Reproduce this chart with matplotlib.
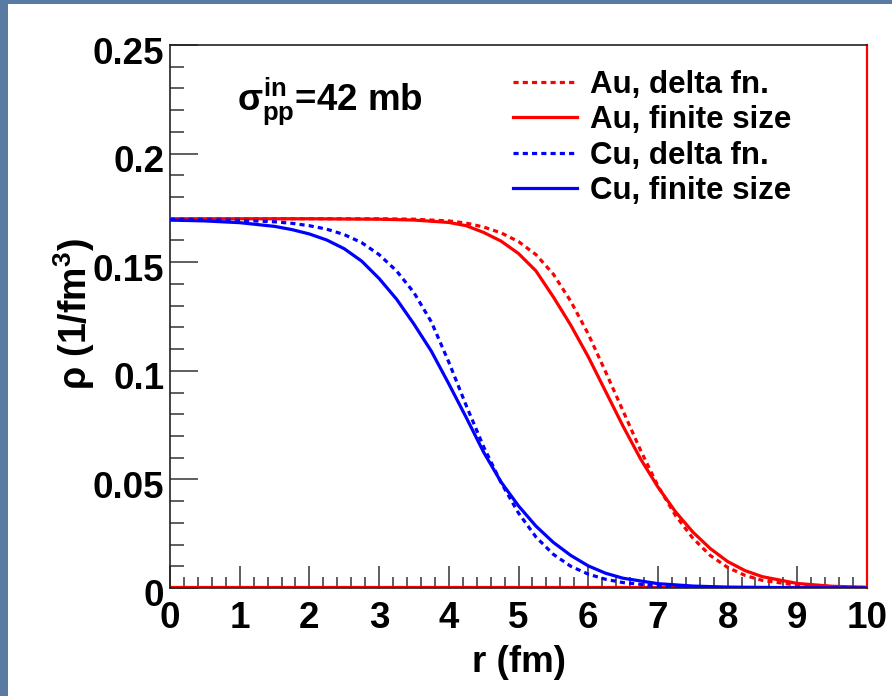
import matplotlib
matplotlib.use("Agg")
import matplotlib.pyplot as plt
from matplotlib.patches import Rectangle
from matplotlib.ticker import MultipleLocator
from matplotlib.transforms import ScaledTranslation

# ---- data ----
r_au = [0.0, 0.5, 1.0, 1.5, 2.0, 2.5, 3.0, 3.5, 4.0, 4.25, 4.5, 4.75, 5.0, 5.25,
        5.5, 5.75, 6.0, 6.25, 6.5, 6.75, 7.0, 7.25, 7.5, 7.75, 8.0, 8.25, 8.5, 9.0,
        9.5, 10.0]
au_finite = [0.1700, 0.1700, 0.1700, 0.1700, 0.1700, 0.1699, 0.1698, 0.1694, 0.1683,
             0.1668, 0.1637, 0.1597, 0.1540, 0.1460, 0.1340, 0.1210, 0.1065, 0.0905,
             0.0745, 0.0595, 0.0465, 0.0352, 0.0258, 0.0182, 0.0122, 0.0080, 0.0052,
             0.0021, 0.0008, 0.0003]
au_delta = [0.1700, 0.1700, 0.1700, 0.1700, 0.1700, 0.1700, 0.1700, 0.1698, 0.1690,
            0.1680, 0.1662, 0.1635, 0.1595, 0.1535, 0.1445, 0.1320, 0.1170, 0.0995,
            0.0815, 0.0635, 0.0470, 0.0335, 0.0230, 0.0150, 0.0095, 0.0058, 0.0035,
            0.0013, 0.0005, 0.0002]

r_cu = [0.0, 0.5, 1.0, 1.5, 1.75, 2.0, 2.25, 2.5, 2.75, 3.0, 3.25, 3.5, 3.75, 4.0,
        4.25, 4.5, 4.75, 5.0, 5.25, 5.5, 5.75, 6.0, 6.25, 6.5, 7.0, 7.5, 8.0, 9.0, 10.0]
cu_finite = [0.1694, 0.1690, 0.1682, 0.1665, 0.1650, 0.1630, 0.1602, 0.1562, 0.1505,
             0.1425, 0.1330, 0.1215, 0.1090, 0.0940, 0.0785, 0.0625, 0.0488, 0.0378,
             0.0285, 0.0210, 0.0150, 0.0102, 0.0068, 0.0045, 0.0020, 0.0009, 0.0004,
             0.0001, 0.0000]
cu_delta = [0.1696, 0.1695, 0.1693, 0.1686, 0.1679, 0.1668, 0.1652, 0.1627, 0.1590,
            0.1535, 0.1460, 0.1360, 0.1225, 0.1040, 0.0840, 0.0650, 0.0485, 0.0345,
            0.0235, 0.0155, 0.0100, 0.0064, 0.0040, 0.0025, 0.0009, 0.0003, 0.0001,
            0.0000, 0.0000]

labels = ["Au, delta fn.", "Au, finite size", "Cu, delta fn.", "Cu, finite size"]
x_ticks = [0, 1, 2, 3, 4, 5, 6, 7, 8, 9, 10]
y_ticks = [0, 0.05, 0.1, 0.15, 0.2, 0.25]
y_ticklabels = ["0", "0.05", "0.1", "0.15", "0.2", "0.25"]

# ---- style ----
plt.rcParams['font.family'] = ['Liberation Sans', 'DejaVu Sans']
plt.rcParams['font.weight'] = 'bold'
plt.rcParams['mathtext.fontset'] = 'custom'
plt.rcParams['mathtext.rm'] = 'Liberation Sans:bold'
plt.rcParams['mathtext.bf'] = 'Liberation Sans:bold'
plt.rcParams['mathtext.it'] = 'Liberation Sans'

W, H = 892, 696
fig = plt.figure(figsize=(W / 100, H / 100), dpi=100)
fig.patch.set_facecolor('#587ba3')
fig.patches.append(Rectangle((8 / W, 0), 1 - 8 / W, 1 - 4 / H, transform=fig.transFigure,
                             facecolor='white', edgecolor='none', zorder=-1))

ax = fig.add_axes([170 / W, 1 - 588 / H, (867 - 170) / W, (588 - 45) / H])
ax.set_zorder(2)
ax.set_facecolor('white')
ax.set_xlim(0, 10)
ax.set_ylim(0, 0.25)

red = '#ff0000'
blue = '#0000ff'
dot = (0, (1.6, 1.3))
lw = 2.3
ax.axhline(0.0006, color=red, lw=1.6, zorder=2)
ax.plot(r_au, au_delta, color=red, lw=lw, ls=dot, label=labels[0], zorder=3)
ax.plot(r_au, au_finite, color=red, lw=lw, ls='-', label=labels[1], zorder=3)
ax.plot(r_cu, cu_delta, color=blue, lw=lw, ls=dot, label=labels[2], zorder=4)
ax.plot(r_cu, cu_finite, color=blue, lw=lw, ls='-', label=labels[3], zorder=4)

for s in ['left', 'bottom', 'top']:
    ax.spines[s].set_color('#222222')
    ax.spines[s].set_linewidth(1.2)
ax.spines['right'].set_color(red)
ax.spines['right'].set_linewidth(1.6)

ax.set_xticks(x_ticks)
ax.set_xticklabels([str(v) for v in x_ticks])
ax.set_yticks(y_ticks)
ax.set_yticklabels(y_ticklabels)
ax.xaxis.set_minor_locator(MultipleLocator(0.2))
ax.yaxis.set_minor_locator(MultipleLocator(0.01))
ax.tick_params(axis='both', which='both', direction='in', top=False, right=False,
               color='#333333', width=1.1)
ax.tick_params(axis='x', which='major', length=16, pad=9, labelsize=26.5)
ax.tick_params(axis='x', which='minor', length=8)
ax.tick_params(axis='y', which='major', length=20, pad=4, labelsize=26.5)
ax.tick_params(axis='y', which='minor', length=10)
shift = ScaledTranslation(0, -5 / 100, fig.dpi_scale_trans)
for t in ax.get_yticklabels():
    t.set_fontweight('bold')
    t.set_transform(t.get_transform() + shift)
for t in ax.get_xticklabels():
    t.set_fontweight('bold')

ax.set_xlabel('r (fm)', fontsize=26.5, fontweight='bold')
ax.xaxis.set_label_coords(0.5, -0.105)
ax.set_ylabel(r'$\rho$ (1/fm$^{3}$)', fontsize=27, fontweight='bold')
ax.yaxis.set_label_coords(-0.105, 0.505)

fig.text(237 / W, 1 - 101 / H, r'$\sigma^{\mathrm{in}}_{\mathrm{pp}}$=42 mb', fontsize=26.5,
         fontweight='bold', va='center', ha='left')

leg = ax.legend(loc='upper left', bbox_to_anchor=(513 / W, 1 - 70 / H),
                bbox_transform=fig.transFigure, frameon=False, fontsize=22.5,
                handlelength=2.05, handletextpad=0.42, labelspacing=0.17,
                borderpad=0, borderaxespad=0)
for t in leg.get_texts():
    t.set_fontweight('bold')

fig.savefig('out.png', dpi=100, facecolor=fig.get_facecolor())
